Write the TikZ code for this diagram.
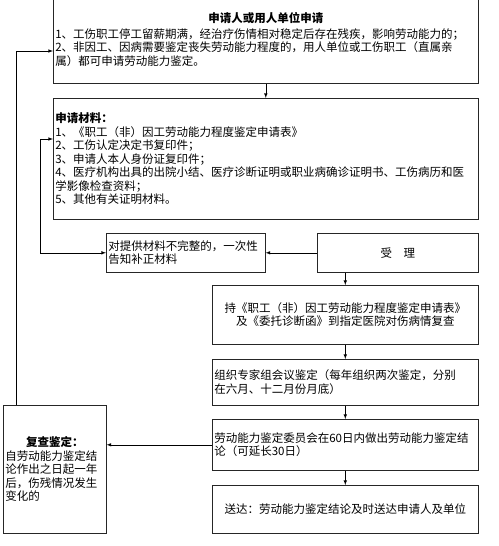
\documentclass[tikz,border=0pt]{standalone}
\usepackage{fontspec}
\setmainfont{Noto Sans CJK SC}
\usetikzlibrary{arrows}

\begin{document}
\begin{tikzpicture}[x=1bp,y=-1bp,semithick]
      \tikzstyle{box}=[rectangle,draw=black!85,anchor=north west,
        inner xsep=2bp,inner ysep=1bp,
        font=\fontsize{11.5bp}{13.5bp}\selectfont]

      \useasboundingbox (0,0) rectangle (499,546);

      \node[box,minimum width=425bp,minimum height=88bp,text width=421bp,align=left] (APP) at (53,-5)
        {\makebox[421bp]{\bfseries 申请人或用人单位申请}\\[2bp]
         1、工伤职工停工留薪期满，经治疗伤情相对稳定后存在残疾，影响劳动能力的；\\
         2、非因工、因病需要鉴定丧失劳动能力程度的，用人单位或工伤职工（直属亲\\
         属）都可申请劳动能力鉴定。};
      \node[box,minimum width=425bp,minimum height=121bp,text width=421bp,align=left] (MAT) at (53,98)
        {{\bfseries 申请材料：}\\
         1、《职工（非）因工劳动能力程度鉴定申请表》\\
         2、工伤认定决定书复印件；\\
         3、申请人本人身份证复印件；\\
         4、医疗机构出具的出院小结、医疗诊断证明或职业病确诊证明书、工伤病历和医\\
         学影像检查资料；\\
         5、其他有关证明材料。};

      \node[box,minimum width=159bp,minimum height=39bp,text width=155bp,align=left] (FIX) at (106,233)
        {对提供材料不完整的，一次性\\告知补正材料};
      \node[box,minimum width=161bp,minimum height=39bp] (ACC) at (317,233) {受\quad 理};

      \node[box,minimum width=266bp,minimum height=59bp,text width=262bp,align=center] (HOS) at (212,285)
        {持《职工（非）因工劳动能力程度鉴定申请表》\\及《委托诊断函》到指定医院对伤病情复查};
      \node[box,minimum width=266bp,minimum height=46bp,text width=262bp,align=left] (EXP) at (212,359)
        {组织专家组会议鉴定（每年组织两次鉴定，分别\\在六月、十二月份月底）};
      \node[box,minimum width=266bp,minimum height=51bp,text width=262bp,align=left] (COM) at (212,419)
        {劳动能力鉴定委员会在60日内做出劳动能力鉴定结\\论（可延长30日）};
      \node[box,minimum width=266bp,minimum height=48bp,text width=262bp,align=center] (SEND) at (212,485)
        {送达：劳动能力鉴定结论及时送达申请人及单位};

      \node[box,minimum width=103bp,minimum height=128bp,text width=99bp,align=left] (REV) at (3,405)
        {\makebox[99bp]{\bfseries 复查鉴定：}\\
         自劳动能力鉴定结\\论作出之日起一年\\后，伤残情况发生\\变化的};

      \tikzstyle{ar}=[->,>=latex]
      \tikzstyle{dar}=[<->,>=latex]

      \coordinate (L) at (40,139);
      \coordinate (R) at (16,51);

      \draw[ar] (APP) -- (MAT);
      \draw[ar] (ACC) -- (FIX);
      \draw[dar] (L -| MAT.west) -- (L) |- (FIX.west);

      \draw[ar] (ACC.south -| HOS.north) -- (HOS.north);
      \draw[ar] (HOS) -- (EXP);
      \draw[ar] (EXP) -- (COM);
      \draw[ar] (COM) -- (SEND);

      \draw[ar] (COM.west) -- (COM.west -| REV.east);
      \draw[ar] (REV.north -| R) |- (R -| APP.west);

    \end{tikzpicture}
\end{document}
